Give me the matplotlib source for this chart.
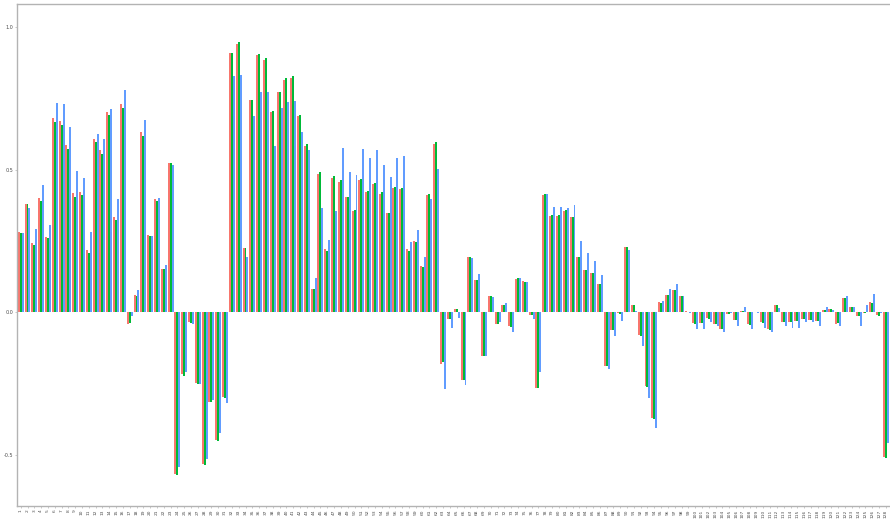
import numpy as np
import matplotlib
matplotlib.use("Agg")
import matplotlib.pyplot as plt

# category labels 1..128 on the x axis
categories = [str(i) for i in range(1, 129)]

series_red = [
    0.281, 0.380, 0.242, 0.400, 0.265, 0.682, 0.671, 0.586, 0.418, 0.423,
    0.218, 0.606, 0.569, 0.701, 0.333, 0.728, -0.041, 0.061, 0.632, 0.271,
    0.396, 0.151, 0.522, -0.568, -0.215, -0.036, -0.248, -0.533, -0.315, -0.446,
    -0.297, 0.907, 0.940, 0.225, 0.742, 0.900, 0.884, 0.700, 0.770, 0.813,
    0.819, 0.689, 0.584, 0.081, 0.484, 0.222, 0.472, 0.458, 0.402, 0.355,
    0.464, 0.422, 0.449, 0.415, 0.348, 0.436, 0.433, 0.220, 0.251, 0.162,
    0.410, 0.589, -0.182, -0.023, 0.012, -0.237, 0.194, 0.114, -0.155, 0.056,
    -0.041, 0.026, -0.050, 0.117, 0.109, -0.008, -0.266, 0.410, 0.338, 0.338,
    0.356, 0.332, 0.193, 0.148, 0.137, 0.100, -0.187, -0.062, -0.004, 0.230,
    0.025, -0.079, -0.258, -0.372, 0.035, 0.061, 0.077, 0.056, 0.006, -0.039,
    -0.039, -0.022, -0.041, -0.058, -0.007, -0.027, 0.005, -0.042, 0.000, -0.036,
    -0.060, 0.025, -0.033, -0.033, -0.030, -0.023, -0.027, -0.030, 0.008, 0.011,
    -0.042, 0.051, 0.020, -0.013, -0.003, 0.035, -0.009, -0.506,
]

series_green = [
    0.279, 0.378, 0.236, 0.391, 0.260, 0.667, 0.655, 0.571, 0.403, 0.409,
    0.208, 0.595, 0.556, 0.690, 0.322, 0.714, -0.039, 0.056, 0.616, 0.266,
    0.391, 0.151, 0.522, -0.570, -0.223, -0.039, -0.250, -0.536, -0.313, -0.451,
    -0.299, 0.907, 0.946, 0.225, 0.744, 0.904, 0.890, 0.704, 0.772, 0.819,
    0.826, 0.692, 0.590, 0.081, 0.490, 0.215, 0.477, 0.463, 0.405, 0.359,
    0.468, 0.426, 0.452, 0.421, 0.349, 0.439, 0.437, 0.216, 0.245, 0.157,
    0.415, 0.597, -0.173, -0.023, 0.012, -0.237, 0.194, 0.114, -0.155, 0.056,
    -0.043, 0.027, -0.053, 0.121, 0.107, -0.009, -0.266, 0.414, 0.340, 0.341,
    0.359, 0.332, 0.193, 0.148, 0.137, 0.100, -0.187, -0.064, -0.006, 0.228,
    0.025, -0.083, -0.263, -0.375, 0.032, 0.061, 0.077, 0.056, 0.002, -0.041,
    -0.039, -0.025, -0.043, -0.058, -0.007, -0.029, 0.006, -0.044, 0.000, -0.039,
    -0.064, 0.025, -0.035, -0.035, -0.032, -0.025, -0.029, -0.032, 0.008, 0.012,
    -0.039, 0.049, 0.020, -0.013, -0.004, 0.032, -0.013, -0.511,
]

series_blue = [
    0.279, 0.364, 0.291, 0.447, 0.304, 0.734, 0.728, 0.650, 0.495, 0.472,
    0.282, 0.624, 0.607, 0.711, 0.395, 0.777, -0.013, 0.078, 0.673, 0.266,
    0.400, 0.165, 0.515, -0.543, -0.211, -0.042, -0.250, -0.513, -0.308, -0.424,
    -0.317, 0.826, 0.832, 0.194, 0.686, 0.773, 0.770, 0.581, 0.717, 0.736,
    0.739, 0.630, 0.570, 0.121, 0.366, 0.254, 0.355, 0.576, 0.492, 0.482,
    0.571, 0.541, 0.568, 0.515, 0.474, 0.540, 0.549, 0.246, 0.289, 0.194,
    0.396, 0.501, -0.269, -0.056, -0.021, -0.255, 0.189, 0.134, -0.152, 0.053,
    -0.035, 0.034, -0.071, 0.120, 0.107, -0.023, -0.209, 0.415, 0.368, 0.368,
    0.366, 0.376, 0.248, 0.207, 0.181, 0.131, -0.200, -0.085, -0.032, 0.218,
    0.005, -0.118, -0.301, -0.404, 0.041, 0.082, 0.098, 0.056, -0.004, -0.058,
    -0.058, -0.035, -0.050, -0.068, -0.004, -0.047, 0.019, -0.060, -0.004, -0.054,
    -0.070, 0.016, -0.048, -0.054, -0.054, -0.035, -0.035, -0.050, 0.020, 0.008,
    -0.050, 0.058, 0.020, -0.048, 0.026, 0.063, -0.004, -0.459,
]

COLOURS = ["#F8766D", "#00BA38", "#619CFF"]
GREY = "#b3b3b3"

fig = plt.figure(figsize=(8.9, 5.19), dpi=100)
ax = fig.add_axes([16.6 / 890, 13 / 519, (890 - 16.6) / 890, (506 - 4) / 519])

x = np.arange(1, len(categories) + 1)
bw = 0.29
for k, vals in enumerate([series_red, series_green, series_blue]):
    ax.bar(x + (k - 1) * bw, vals, width=bw, color=COLOURS[k], linewidth=0)

ax.set_xlim(0.4, 128.6)
ax.set_ylim(-0.679, 1.080)
ax.set_xticks(x)
ax.set_xticklabels(categories, rotation=90, fontsize=3.2, color="#4d4d4d")
ax.set_yticks([-0.5, 0.0, 0.5, 1.0])
ax.set_yticklabels(["-0.5", "0.0", "0.5", "1.0"], fontsize=3.5, color="#4d4d4d")
ax.tick_params(axis="both", length=1.5, width=0.5, color=GREY, pad=1)

for side in ["left", "bottom", "top"]:
    ax.spines[side].set_color(GREY)
    ax.spines[side].set_linewidth(1.0)
ax.spines["right"].set_visible(False)

fig.savefig("out.png", dpi=100)
